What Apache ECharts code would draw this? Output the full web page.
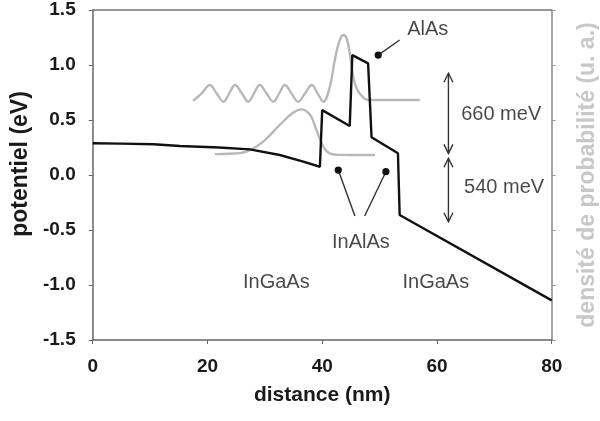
<!DOCTYPE html>
<html><head><meta charset="utf-8">
<script src="https://cdn.jsdelivr.net/npm/echarts@6/dist/echarts.min.js"></script>
<style>html,body{margin:0;padding:0;background:#fff}#c{width:600px;height:421px}</style>
</head><body><div id="c"></div>
<script>
// ---- data ----
const xMin = 0, xMax = 80, xStep = 20;
const yMin = -1.5, yMax = 1.5, yStep = 0.5;

// conduction band potential (eV) vs distance (nm)
const potentialX = [0, 5, 10.6, 15.2, 22.0, 27.4, 32.6, 36.7, 39.6, 40.0, 44.8, 45.25, 48.0, 48.6, 53.2, 53.5, 80];
const potentialY = [0.288, 0.285, 0.279, 0.264, 0.250, 0.233, 0.182, 0.121, 0.075, 0.59, 0.445, 1.09, 1.015, 0.343, 0.197, -0.364, -1.14];

// lower probability density (gray)
const waveLowX = [21.3, 24.5, 26.8, 29.7, 32.6, 34.9, 36.4, 37.9, 39.0, 40.2, 41.3, 43.0, 49.2];
const waveLowY = [0.19, 0.195, 0.212, 0.303, 0.455, 0.566, 0.597, 0.545, 0.409, 0.257, 0.197, 0.183, 0.182];

// upper probability density (gray)
const waveHighX = [17.5, 19.0, 20.4, 21.6, 22.8, 23.8, 24.8, 26.0, 27.1, 28.1, 29.1, 30.3, 31.5, 32.5, 33.5, 34.65, 35.8, 37.0, 38.2, 39.2, 40.2,
                   41.34, 42.2, 42.97, 43.66, 44.25, 44.8, 45.4, 46.0, 46.9, 48.0, 57.0];
const waveHighY = [0.675, 0.742, 0.818, 0.742, 0.666, 0.742, 0.818, 0.742, 0.666, 0.742, 0.818, 0.742, 0.666, 0.742, 0.818, 0.742, 0.666, 0.742, 0.818, 0.742, 0.666,
                   0.803, 1.045, 1.212, 1.273, 1.243, 1.106, 0.894, 0.788, 0.718, 0.682, 0.682];

// text annotations (centre, data coordinates)
const noteText = ['AlAs', '660 meV', '540 meV', 'InAlAs', 'InGaAs', 'InGaAs'];
const noteX = [58.4, 71.2, 71.7, 46.74, 32.0, 59.8];
const noteY = [1.323, 0.55, -0.114, -0.609, -0.98, -0.98];

// double arrows (x, top, bottom)
const arrowX = [62, 62];
const arrowTop = [0.925, 0.152];
const arrowBottom = [0.197, -0.425];

// leader lines with dots (dot end -> text end)
const leadDotX = [49.76, 42.8, 51.1];
const leadDotY = [1.09, 0.045, 0.03];
const leadEndX = [53.5, 45.7, 47.4];
const leadEndY = [1.227, -0.373, -0.373];

// ---- chart ----
const FONT = 'Liberation Sans, Arial, sans-serif';
const zip = (a, b) => a.map((v, i) => [v, b[i]]);

const chart = echarts.init(document.getElementById('c'), null, {renderer: 'canvas'});

const option = {
  animation: false,
  backgroundColor: '#fff',
  grid: {left: 92.7, right: 48.3, top: 10, bottom: 81, containLabel: false, outerBoundsMode: 'none'},
  xAxis: [{
    type: 'value', min: xMin, max: xMax, interval: xStep, position: 'bottom',
    name: 'distance (nm)', nameLocation: 'middle', nameGap: 45,
    nameTextStyle: {fontFamily: FONT, fontWeight: 'bold', fontSize: 21, color: '#1a1a1a'},
    axisLine: {show: true, onZero: false, lineStyle: {color: '#666', width: 1.5}},
    axisTick: {show: true, inside: false, length: 4, lineStyle: {color: '#666'}},
    axisLabel: {fontFamily: FONT, fontWeight: 'bold', fontSize: 19, color: '#1a1a1a', margin: 17},
    splitLine: {show: false}
  }, {
    type: 'value', min: xMin, max: xMax, position: 'top',
    axisLine: {show: true, onZero: false, lineStyle: {color: '#777', width: 1.5}},
    axisTick: {show: false}, axisLabel: {show: false}, splitLine: {show: false}
  }],
  yAxis: [{
    type: 'value', min: yMin, max: yMax, interval: yStep, position: 'left',
    name: 'potentiel (eV)', nameLocation: 'middle', nameGap: 59, nameRotate: 90,
    nameTextStyle: {fontFamily: FONT, fontWeight: 'bold', fontSize: 23, color: '#1a1a1a', padding: [0, 0, 0, 22]},
    axisLine: {show: true, onZero: false, lineStyle: {color: '#666', width: 1.5}},
    axisTick: {show: true, inside: false, length: 4, lineStyle: {color: '#666'}},
    axisLabel: {fontFamily: FONT, fontWeight: 'bold', fontSize: 19, color: '#1a1a1a', margin: 17,
      formatter: v => v.toFixed(1)},
    splitLine: {show: false}
  }, {
    type: 'value', min: yMin, max: yMax, interval: yStep, position: 'right',
    name: 'densité de probabilité (u. a.)', nameLocation: 'middle', nameGap: 24, nameRotate: 90,
    nameTextStyle: {fontFamily: FONT, fontWeight: 'bold', fontSize: 23, color: '#c8c8c8'},
    axisLine: {show: true, onZero: false, lineStyle: {color: '#888', width: 1.5}},
    axisTick: {show: true, inside: false, length: 4, lineStyle: {color: '#999'}},
    axisLabel: {show: false},
    splitLine: {show: false}
  }],
  series: [
    {
      type: 'line', name: 'wave low', data: zip(waveLowX, waveLowY), smooth: 0.4,
      showSymbol: false, lineStyle: {color: '#b8b8b8', width: 2.4}, z: 2
    },
    {
      type: 'line', name: 'wave high', data: zip(waveHighX, waveHighY), smooth: 0.4,
      showSymbol: false, lineStyle: {color: '#b8b8b8', width: 2.4}, z: 2
    },
    {
      type: 'line', name: 'potential', data: zip(potentialX, potentialY), smooth: false,
      showSymbol: false, lineStyle: {color: '#111', width: 2.4}, z: 3
    },
    {
      type: 'custom', name: 'arrows', z: 4,
      data: arrowX.map((x, i) => [x, arrowTop[i], arrowBottom[i]]),
      renderItem: (params, api) => {
        const p1 = api.coord([api.value(0), api.value(1)]);
        const p2 = api.coord([api.value(0), api.value(2)]);
        const st = {stroke: '#333', lineWidth: 1.4, fill: null};
        const hw = 4.5, hh = 9;
        return {type: 'group', children: [
          {type: 'line', shape: {x1: p1[0], y1: p1[1], x2: p2[0], y2: p2[1]}, style: st},
          {type: 'polyline', shape: {points: [[p1[0] - hw, p1[1] + hh], [p1[0], p1[1]], [p1[0] + hw, p1[1] + hh]]}, style: st},
          {type: 'polyline', shape: {points: [[p2[0] - hw, p2[1] - hh], [p2[0], p2[1]], [p2[0] + hw, p2[1] - hh]]}, style: st}
        ]};
      }
    },
    {
      type: 'custom', name: 'leaders', z: 4,
      data: leadDotX.map((x, i) => [x, leadDotY[i], leadEndX[i], leadEndY[i]]),
      renderItem: (params, api) => {
        const p1 = api.coord([api.value(0), api.value(1)]);
        const p2 = api.coord([api.value(2), api.value(3)]);
        return {type: 'group', children: [
          {type: 'line', shape: {x1: p1[0], y1: p1[1], x2: p2[0], y2: p2[1]}, style: {stroke: '#333', lineWidth: 1.4}},
          {type: 'circle', shape: {cx: p1[0], cy: p1[1], r: 3.6}, style: {fill: '#111'}}
        ]};
      }
    },
    {
      type: 'scatter', name: 'notes', z: 5, symbolSize: 1,
      itemStyle: {color: 'rgba(0,0,0,0)'},
      data: noteText.map((t, i) => ({value: [noteX[i], noteY[i]], name: t})),
      label: {show: true, position: 'inside', formatter: p => p.name,
        fontFamily: FONT, fontSize: 20, color: '#1a1a1a'}
    }
  ]
};
chart.setOption(option);
</script>
</body></html>
